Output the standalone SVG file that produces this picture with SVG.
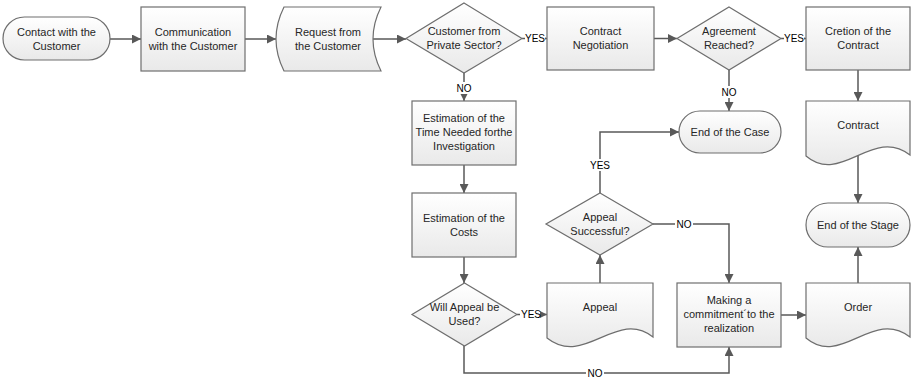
<svg xmlns="http://www.w3.org/2000/svg" width="912" height="381" viewBox="0 0 912 381">
  <defs>
    <linearGradient id="fillGrad" x1="0" y1="0" x2="0" y2="1">
      <stop offset="0" stop-color="#ffffff"/>
      <stop offset="1" stop-color="#e9e9e9"/>
    </linearGradient>
    <marker id="arrow" viewBox="0 0 10 10" refX="10" refY="5" markerWidth="9" markerHeight="9" markerUnits="userSpaceOnUse" orient="auto">
      <path d="M0,0 L10,5 L0,10 Z" fill="#595959"/>
    </marker>
    <style>
      .shape { fill: url(#fillGrad); stroke: #6e6e6e; stroke-width: 1.2; }
      .conn { fill: none; stroke: #595959; stroke-width: 1.5; marker-end: url(#arrow); }
      .plain { fill: none; stroke: #595959; stroke-width: 1.5; }
      .label { font-family: "Liberation Sans", Arial, sans-serif; font-size: 11px; fill: #262626; text-anchor: middle; }
      .tag-bg { fill: #ffffff; }
      .tag { font-family: "Liberation Sans", Arial, sans-serif; font-size: 10px; fill: #000000; text-anchor: middle; }
    </style>
  </defs>

  <rect width="912" height="381" fill="#ffffff"/>

  <!-- connectors -->
  <g id="connectors">
    <path class="conn" d="M110,39 H141"/>
    <path class="conn" d="M245,39 H276"/>
    <path class="conn" d="M373,39 H406"/>
    <path class="conn" d="M522,38.5 H547"/>
    <path class="conn" d="M654,38.5 H677"/>
    <path class="conn" d="M781,38.5 H806"/>
    <path class="conn" d="M464,73 V101"/>
    <path class="conn" d="M464,165 V193"/>
    <path class="conn" d="M464,257 V283"/>
    <path class="conn" d="M517,314.5 H547"/>
    <path class="conn" d="M600,290 V255"/>
    <path class="conn" d="M600,193 V132 H679"/>
    <path class="conn" d="M729,70 V111"/>
    <path class="conn" d="M653,224 H729 V283"/>
    <path class="conn" d="M464,346 V373 H729 V347"/>
    <path class="conn" d="M781,315 H806"/>
    <path class="conn" d="M858,290 V247"/>
    <path class="conn" d="M858,70 V101"/>
    <path class="conn" d="M858,150 V203"/>

    <!-- branch labels -->
    <rect class="tag-bg" x="525" y="32" width="20" height="12"/>
    <text class="tag" x="535" y="42">YES</text>
    <rect class="tag-bg" x="784" y="32" width="20" height="12"/>
    <text class="tag" x="794" y="42">YES</text>
    <rect class="tag-bg" x="455" y="82" width="18" height="12"/>
    <text class="tag" x="464" y="92">NO</text>
    <rect class="tag-bg" x="720" y="86" width="18" height="12"/>
    <text class="tag" x="729" y="96">NO</text>
    <rect class="tag-bg" x="520" y="308" width="20" height="12"/>
    <text class="tag" x="531" y="318">YES</text>
    <rect class="tag-bg" x="590" y="159" width="20" height="12"/>
    <text class="tag" x="600" y="169">YES</text>
    <rect class="tag-bg" x="675" y="219" width="18" height="12"/>
    <text class="tag" x="684" y="228">NO</text>
    <rect class="tag-bg" x="586" y="367" width="18" height="12"/>
    <text class="tag" x="595" y="377">NO</text>
  </g>

  <!-- nodes -->
  <g id="contact">
    <rect class="shape" x="3" y="17" width="107" height="43" rx="21.5"/>
    <text class="label" x="56.5" y="36">Contact with the</text>
    <text class="label" x="56.5" y="50">Customer</text>
  </g>

  <g id="communication">
    <rect class="shape" x="141" y="7" width="104" height="64"/>
    <text class="label" x="193" y="36">Communication</text>
    <text class="label" x="193" y="50">with the Customer</text>
  </g>

  <g id="request">
    <path class="shape" d="M284,7 H381 Q365,39 381,71 H284 Q268,39 284,7 Z"/>
    <text class="label" x="328" y="36">Request from</text>
    <text class="label" x="328" y="50">the Customer</text>
  </g>

  <g id="private-sector">
    <path class="shape" d="M464,3 L522,38.5 L464,73 L406,38.5 Z"/>
    <text class="label" x="464" y="35">Customer from</text>
    <text class="label" x="464" y="49">Private Sector?</text>
  </g>

  <g id="negotiation">
    <rect class="shape" x="547" y="7" width="107" height="63"/>
    <text class="label" x="600.5" y="35">Contract</text>
    <text class="label" x="600.5" y="49">Negotiation</text>
  </g>

  <g id="agreement">
    <path class="shape" d="M729,7 L781,38.5 L729,70 L677,38.5 Z"/>
    <text class="label" x="729" y="35">Agreement</text>
    <text class="label" x="729" y="49">Reached?</text>
  </g>

  <g id="creation">
    <rect class="shape" x="806" y="7" width="104" height="63"/>
    <text class="label" x="858" y="35">Cretion of the</text>
    <text class="label" x="858" y="49">Contract</text>
  </g>

  <g id="estimate-time">
    <rect class="shape" x="412" y="101" width="104" height="64"/>
    <text class="label" x="464" y="122">Estimation of the</text>
    <text class="label" x="464" y="136">Time Needed forthe</text>
    <text class="label" x="464" y="150">Investigation</text>
  </g>

  <g id="estimate-costs">
    <rect class="shape" x="412" y="193" width="104" height="64"/>
    <text class="label" x="464" y="222">Estimation of the</text>
    <text class="label" x="464" y="236">Costs</text>
  </g>

  <g id="appeal-used">
    <path class="shape" d="M464.5,283 L517,314.5 L464.5,346 L412,314.5 Z"/>
    <text class="label" x="464.5" y="311">Will Appeal be</text>
    <text class="label" x="464.5" y="325">Used?</text>
  </g>

  <g id="appeal">
    <path class="shape" d="M547,283 H653 V337 C616.6,308 584.8,368 547,338 Z"/>
    <text class="label" x="600" y="311">Appeal</text>
  </g>

  <g id="appeal-successful">
    <path class="shape" d="M600,193 L653,224 L600,255 L546,224 Z"/>
    <text class="label" x="600" y="221">Appeal</text>
    <text class="label" x="600" y="235">Successful?</text>
  </g>

  <g id="end-case">
    <rect class="shape" x="679" y="111" width="102" height="42" rx="21"/>
    <text class="label" x="730" y="136">End of the Case</text>
  </g>

  <g id="commitment">
    <rect class="shape" x="677" y="283" width="104" height="64"/>
    <text class="label" x="729" y="304">Making a</text>
    <text class="label" x="729" y="318">commitment´to the</text>
    <text class="label" x="729" y="332">realization</text>
  </g>

  <g id="order">
    <path class="shape" d="M806,283 H910 V337 C872.6,308 841.2,368 806,338 Z"/>
    <text class="label" x="858" y="311">Order</text>
  </g>

  <g id="contract">
    <path class="shape" d="M806,101 H910 V155 C872.6,126 841.2,186 806,156 Z"/>
    <text class="label" x="858" y="129">Contract</text>
  </g>

  <g id="end-stage">
    <rect class="shape" x="806" y="203" width="104" height="44" rx="22"/>
    <text class="label" x="858" y="229">End of the Stage</text>
  </g>
</svg>
